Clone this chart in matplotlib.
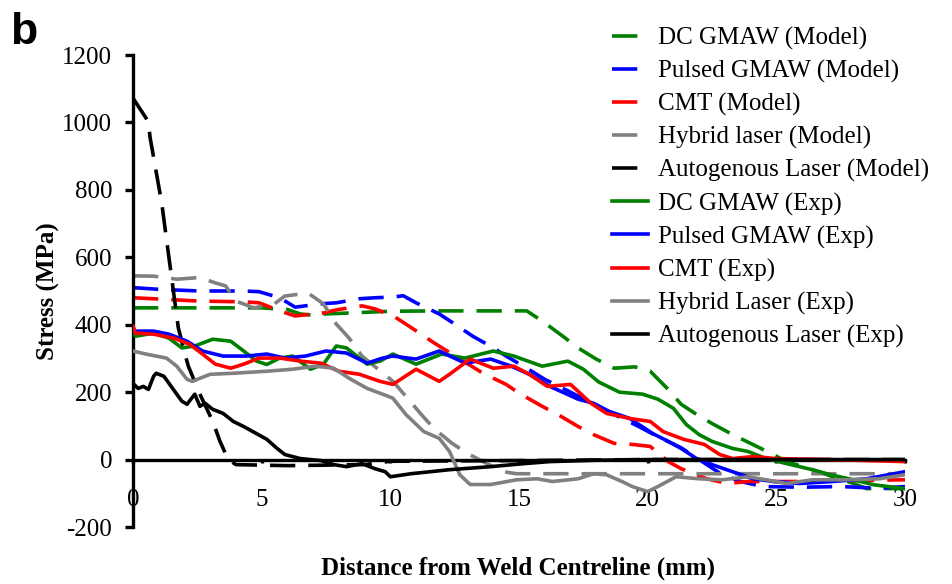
import matplotlib
matplotlib.use("Agg")
import matplotlib.pyplot as plt

# ---------------- data ----------------
dc_model_x = [0, 5.0, 6.0, 6.5, 7.0, 7.5, 8.5, 10.0, 12.0, 15.3, 15.9, 16.7, 17.3, 18.0, 18.7, 19.5,
              20.1, 20.8, 21.3, 21.9, 22.5, 23.3, 24.0, 24.8, 25.4, 26.4, 27.2, 28.0, 28.5, 30.0]
dc_model_y = [450, 450, 445, 432, 428, 432, 435, 440, 441, 441, 411, 366, 331, 298, 271, 275,
              262, 208, 164, 134, 107, 74, 48, 18, -6, -30, -51, -71, -86, -86]

pg_model_x = [0, 1.0, 2.6, 4.3, 4.9, 5.7, 6.3, 7.3, 7.9, 8.8, 9.4, 10.1, 10.5, 11.0, 11.9, 12.5, 13.2,
              13.9, 14.5, 15.3, 16.0, 17.0, 18.0, 19.5, 20.4, 21.3, 22.0, 22.8, 23.6, 24.5, 26.0,
              27.5, 29.0, 30.0]
pg_model_y = [510, 505, 500, 500, 498, 480, 452, 462, 465, 477, 480, 482, 486, 465, 432, 402, 366,
              336, 307, 271, 238, 200, 160, 104, 68, 35, 0, -40, -65, -80, -82,
              -80, -85, -80]

cmt_model_x = [0, 2.6, 4.3, 4.9, 5.7, 6.3, 7.4, 7.9, 8.9, 9.4, 10.1, 10.3, 10.9, 11.7, 13.6, 14.5,
               15.0, 15.9, 16.5, 17.3, 17.9, 18.7, 19.4, 20.1, 20.8, 21.3, 22.3, 23.1, 23.9, 26.0,
               28.0, 30.0]
cmt_model_y = [480, 470, 468, 465, 441, 426, 435, 444, 456, 447, 426, 417, 387, 346, 256, 223,
               197, 158, 134, 98, 74, 48, 45, 39, -6, -27, -57, -71, -65, -65,
               -62, -60]

hl_model_x = [0, 0.8, 1.7, 2.6, 3.2, 3.6, 4.0, 4.7, 5.5, 5.9, 6.8, 7.4, 7.9, 8.4, 8.9, 10.1, 10.6,
              11.2, 11.7, 12.4, 13.0, 13.6, 14.4, 14.9, 20.0, 25.0, 30.0]
hl_model_y = [545, 544, 535, 540, 524, 515, 470, 450, 462, 485, 494, 462, 402, 360, 307, 232, 188,
              134, 92, 48, 18, -6, -36, -42, -42, -42, -42]

al_model_x = [0, 0.6, 0.66, 1.12, 1.24, 1.76, 2.02, 2.15, 2.6, 3.1, 3.38, 3.7, 4.0, 6.0, 9.0, 10.0,
              15.0, 20.0, 25.0, 30.0]
al_model_y = [1072, 1002, 957, 759, 689, 391, 313, 277, 194, 113, 54, 0, -15, -18, -15, -5,
              -3, 0, 0, 0]

dc_exp_x = [0, 0.1, 0.8, 1.4, 1.9, 2.4, 3.1, 3.8, 4.3, 4.8, 5.2, 5.7, 6.2, 6.9, 7.4, 7.9, 8.3, 9.1,
            9.6, 10.1, 11.0, 12.0, 12.9, 14.0, 14.8, 15.9, 16.9, 17.5, 18.1, 18.9, 19.8, 20.4,
            21.0, 21.5, 22.0, 22.5, 23.3, 23.9, 24.6, 25.4, 26.4, 27.1, 28.0, 28.8, 30.0]
dc_exp_y = [395, 366, 375, 360, 331, 337, 357, 351, 322, 292, 282, 301, 307, 268, 283, 337, 331, 283,
            292, 313, 283, 313, 301, 322, 307, 277, 292, 268, 230, 200, 194, 179,
            152, 104, 74, 54, 33, 24, 3, -12, -30, -45, -60, -75, -86]

pg_exp_x = [0, 0.8, 1.4, 2.1, 2.7, 3.5, 4.4, 5.2, 5.9, 6.7, 7.5, 8.3, 9.1, 9.7, 10.1, 11.0, 11.9,
            12.9, 13.9, 14.7, 15.4, 16.2, 17.3, 17.9, 18.5, 19.3, 20.2, 20.8, 21.3, 21.9, 22.5,
            23.3, 24.1, 24.9, 25.9, 27.2, 28.5, 30.0]
pg_exp_y = [381, 381, 372, 351, 322, 307, 307, 313, 301, 307, 322, 316, 286, 301, 307, 298, 322,
            286, 298, 277, 253, 217, 179, 167, 143, 122, 77, 54, 33, 3, -15,
            -36, -57, -65, -71, -65, -57, -36]

cmt_exp_x = [0, 0.1, 0.8, 1.6, 2.2, 2.7, 3.2, 3.8, 4.3, 4.9, 5.7, 6.5, 7.3, 8.0, 8.8, 9.6, 10.1,
             11.0, 11.9, 12.3, 13.1, 14.0, 14.8, 15.4, 16.1, 17.0, 17.8, 18.4, 19.3, 20.1, 20.6,
             21.4, 22.2, 22.8, 23.3, 24.1, 25.0, 27.0, 30.0]
cmt_exp_y = [395, 375, 372, 360, 342, 313, 283, 271, 283, 301, 301, 292, 286, 262, 253, 232, 223,
             268, 232, 253, 298, 271, 277, 253, 217, 223, 167, 137, 122, 113, 83,
             60, 45, 15, 3, 9, 3, 0, -6]

hl_exp_x = [0, 0.5, 1.3, 1.7, 2.1, 2.3, 3.0, 3.9, 5.2, 6.2, 7.1, 7.8, 8.4, 9.1, 9.7, 10.1, 10.6,
            11.3, 11.9, 12.3, 12.7, 13.1, 13.9, 14.9, 15.7, 16.3, 17.3, 17.9, 18.4, 19.0, 19.4,
            20.0, 20.4, 21.1, 22.0, 22.9, 23.9, 24.6, 25.4, 26.4, 27.7, 29.0, 30.0]
hl_exp_y = [322, 313, 301, 277, 238, 232, 253, 256, 262, 268, 277, 271, 241, 211, 194, 182, 134,
            83, 63, 24, -45, -74, -74, -60, -57, -65, -57, -42, -45, -65, -80,
            -95, -80, -51, -57, -60, -51, -60, -71, -60, -60, -57, -45]

al_exp_x = [0, 0.2, 0.4, 0.6, 0.8, 0.9, 1.2, 1.4, 1.7, 1.9, 2.1, 2.4, 2.6, 2.8, 3.1, 3.5, 3.9, 4.3,
            4.8, 5.2, 5.6, 5.9, 6.5, 7.3, 7.8, 8.3, 8.9, 9.4, 9.8, 10.0, 10.8, 12.3, 13.9, 15.2,
            16.2, 18.0, 20.0, 25.0, 30.0]
al_exp_y = [226, 211, 217, 208, 247, 256, 247, 226, 194, 173, 164, 194, 158, 167, 149, 137, 113, 98,
            77, 60, 33, 15, 3, -3, -15, -21, -12, -27, -36, -51, -42, -30, -21, -12,
            -6, -2, 0, 0, 0]

model_labels = ["DC GMAW (Model)", "Pulsed GMAW (Model)", "CMT (Model)",
                "Hybrid laser (Model)", "Autogenous Laser (Model)"]
exp_labels = ["DC GMAW (Exp)", "Pulsed GMAW (Exp)", "CMT (Exp)",
              "Hybrid Laser (Exp)", "Autogenous Laser (Exp)"]
colors = ["#008000", "#0000FF", "#FF0000", "#808080", "#000000"]

x_ticks = [0, 5, 10, 15, 20, 25, 30]
y_ticks = [-200, 0, 200, 400, 600, 800, 1000, 1200]

# ---------------- figure ----------------
plt.rcParams['font.family'] = ['Liberation Serif', 'DejaVu Serif']
plt.rcParams['axes.unicode_minus'] = False

W, H = 953, 584
fig = plt.figure(figsize=(W / 100, H / 100), dpi=100)
ax = fig.add_axes([133 / W, 1 - 527 / H, (905 - 133) / W, (527 - 55) / H])

model_series = [(dc_model_x, dc_model_y), (pg_model_x, pg_model_y), (cmt_model_x, cmt_model_y),
                (hl_model_x, hl_model_y), (al_model_x, al_model_y)]
exp_series = [(dc_exp_x, dc_exp_y), (pg_exp_x, pg_exp_y), (cmt_exp_x, cmt_exp_y),
              (hl_exp_x, hl_exp_y), (al_exp_x, al_exp_y)]

lw = 2.6
handles = []
for (xs, ys), c, lab in zip(model_series, colors, model_labels):
    h, = ax.plot(xs, ys, color=c, lw=lw, dashes=(7, 3.6), label=lab, zorder=2)
    handles.append(h)
for (xs, ys), c, lab in zip(exp_series, colors, exp_labels):
    h, = ax.plot(xs, ys, color=c, lw=lw, label=lab, zorder=3)
    handles.append(h)

ax.set_xlim(0, 30)
ax.set_ylim(-200, 1200)
ax.set_xticks(x_ticks)
ax.set_yticks(y_ticks)

for s in ["top", "right"]:
    ax.spines[s].set_visible(False)
ax.spines["bottom"].set_position(("data", 0))
ax.spines["bottom"].set_linewidth(2.4)
ax.spines["left"].set_linewidth(2.4)
ax.spines["bottom"].set_zorder(1)

ax.tick_params(axis="y", direction="out", length=6, width=2.4, labelsize=18, pad=9)
ax.tick_params(axis="x", direction="out", length=2, width=2.4, labelsize=18, pad=19)

ax.set_ylabel("Stress (MPa)", fontsize=18, fontweight="bold")
ax.yaxis.set_label_coords(-0.095, 0.50)
ax.set_xlabel("Distance from Weld Centreline (mm)", fontsize=18, fontweight="bold")
ax.xaxis.set_label_coords(0.4987, -0.062)

leg = ax.legend(handles=handles, loc="upper left", bbox_to_anchor=(612 / W, 1 - 27 / H),
                bbox_transform=fig.transFigure, frameon=False, fontsize=18,
                handlelength=1.45, handletextpad=0.4, labelspacing=0.4,
                borderpad=0, borderaxespad=0)

fig.text(10 / W, 1 - 44 / H, "b", fontsize=32, fontweight="bold",
         family=["Liberation Sans", "DejaVu Sans"], ha="left", va="baseline")

fig.savefig("out.png", dpi=100)
